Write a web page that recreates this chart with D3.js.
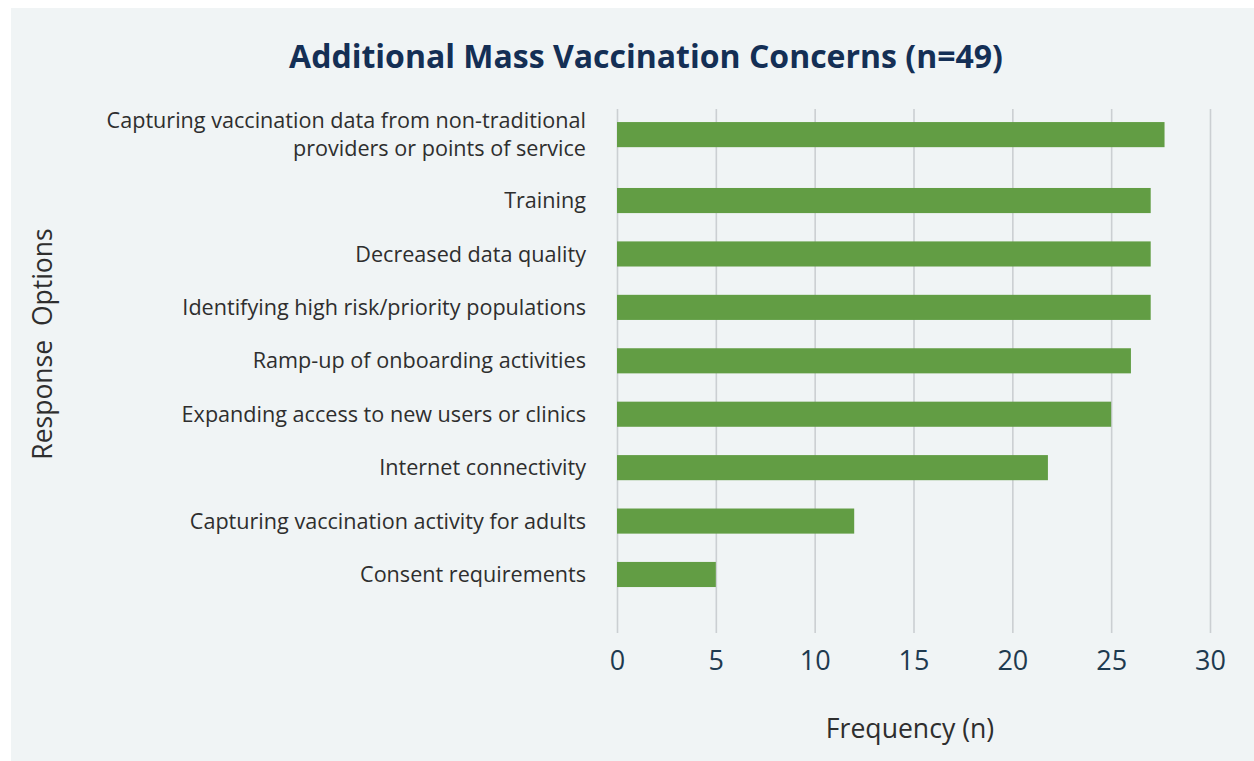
<!DOCTYPE html>
<html>
<head>
<meta charset="utf-8">
<script src="https://cdn.jsdelivr.net/npm/d3@7"></script>
<style>
  html, body { margin: 0; padding: 0; background: #ffffff; }
  svg { display: block; }
  text { font-family: "Open Sans", "Noto Sans", sans-serif; }
</style>
</head>
<body>
<svg id="chart" width="1254" height="761"></svg>
<script>
// Survey responses, top to bottom (a "\n" wraps a label onto two lines)
const categories = [
  "Capturing vaccination data from non-traditional\nproviders or points of service",
  "Training",
  "Decreased data quality",
  "Identifying high risk/priority populations",
  "Ramp-up of onboarding activities",
  "Expanding access to new users or clinics",
  "Internet connectivity",
  "Capturing vaccination activity for adults",
  "Consent requirements"
];
const frequencies = [27.7, 27, 27, 27, 26, 25, 21.8, 12, 5];
const xTicks = [0, 5, 10, 15, 20, 25, 30];

const titleText = "Additional Mass Vaccination Concerns (n=49)";
const xTitleText = "Frequency (n)";
const yTitleText = "Response\u00a0\u00a0Options";

const W = 1254, H = 761;
const plot = { left: 617, right: 1210, top: 109, bottom: 633 };
const barColor = "#629d44";
const gridColor = "#cbcfd2";

const svg = d3.select("#chart");

// panel background
svg.append("rect")
  .attr("x", 11).attr("y", 8)
  .attr("width", W - 11).attr("height", H - 8)
  .attr("fill", "#f0f4f5");

const x = d3.scaleLinear().domain([0, 30]).range([plot.left, plot.right]);
const y = d3.scaleBand()
  .domain(categories)
  .range([120.4, 601.2])
  .paddingInner(0.53)
  .paddingOuter(0.265);

// wrapped labels lift their row by half a line
const liftPerExtraLine = 12.5;
const labelLineHeight = 28;
const lines = d => d.split("\n");
const rowShift = d => -(lines(d).length - 1) * liftPerExtraLine;
const rowCenter = d => y(d) + y.bandwidth() / 2 + rowShift(d);

// vertical gridlines + tick labels
const xAxis = d3.axisBottom(x)
  .tickValues(xTicks)
  .tickSize(-(plot.bottom - plot.top))
  .tickFormat(d3.format("d"));

const gx = svg.append("g")
  .attr("transform", `translate(0,${plot.bottom})`)
  .call(xAxis);
gx.select(".domain").remove();
gx.selectAll(".tick line")
  .attr("stroke", gridColor)
  .attr("stroke-width", 1.6);
gx.selectAll(".tick text")
  .attr("dy", null)
  .attr("y", 37)
  .attr("fill", "#1e3a4f")
  .attr("font-size", 27)
  .attr("font-family", "Open Sans, sans-serif");

// bars
svg.append("g")
  .selectAll("rect")
  .data(categories)
  .join("rect")
  .attr("x", x(0))
  .attr("y", d => y(d) + rowShift(d))
  .attr("width", (d, i) => x(frequencies[i]) - x(0))
  .attr("height", y.bandwidth())
  .attr("fill", barColor);

// category labels
const labels = svg.append("g")
  .selectAll("text")
  .data(categories)
  .join("text")
  .attr("text-anchor", "end")
  .attr("fill", "#2e2e2e")
  .attr("font-size", 21.6);
labels.each(function (d) {
  const ls = lines(d);
  const c = rowCenter(d);
  const first = c - (ls.length - 1) * labelLineHeight / 2;
  d3.select(this).selectAll("tspan")
    .data(ls)
    .join("tspan")
    .attr("x", 586)
    .attr("y", (s, j) => first + j * labelLineHeight)
    .attr("dy", "0.35em")
    .text(s => s);
});

// title
svg.append("text")
  .attr("x", 646).attr("y", 68)
  .attr("text-anchor", "middle")
  .attr("font-size", 32)
  .attr("font-weight", 700)
  .attr("fill", "#142f55")
  .text(titleText);

// axis titles
svg.append("text")
  .attr("x", 910).attr("y", 738)
  .attr("text-anchor", "middle")
  .attr("font-size", 26.6)
  .attr("fill", "#2e2e2e")
  .text(xTitleText);

svg.append("text")
  .attr("transform", "translate(52,344) rotate(-90)")
  .attr("text-anchor", "middle")
  .attr("font-size", 26.5)
  .attr("fill", "#2e2e2e")
  .text(yTitleText);
</script>
</body>
</html>
